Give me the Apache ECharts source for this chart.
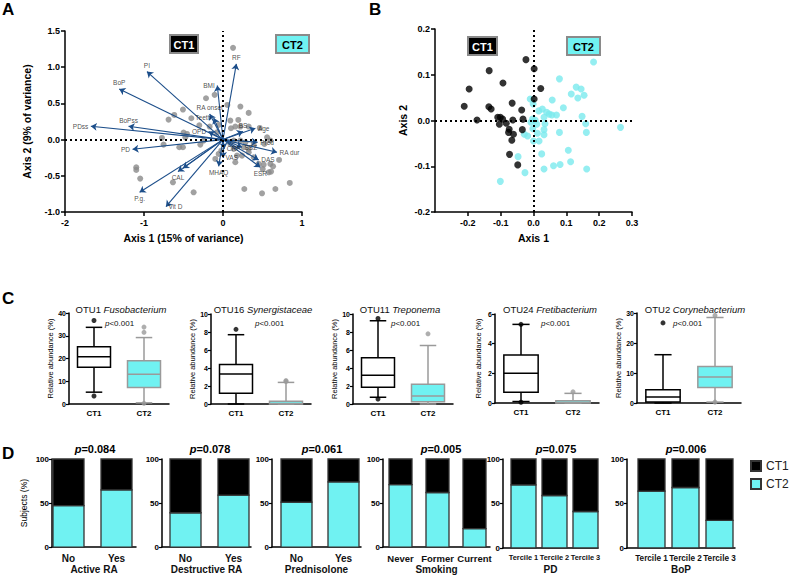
<!DOCTYPE html>
<html><head><meta charset="utf-8">
<script src="https://cdn.jsdelivr.net/npm/echarts@6/dist/echarts.min.js"></script>
<style>html,body{margin:0;padding:0;background:#fff}#c{width:789px;height:575px}</style>
</head><body><div id="c"></div>
<script>
// ---------------- DATA ----------------
// Panel A: sample scores (Axis 1, Axis 2)
const pcaPoints = [
 [0.127,1.267],[-0.215,0.571],[-0.106,0.618],[0.055,0.479],[0.220,0.456],[0.325,0.369],
 [-0.689,0.276],[-0.507,0.415],[-0.617,0.341],[-0.401,0.295],[-0.300,0.198],[-0.169,0.180],
 [-0.055,0.203],[0.093,0.263],[0.156,0.180],[0.194,0.272],[0.101,0.157],[0.220,0.180],
 [0.325,0.180],[0.465,0.161],[0.558,0.032],[0.600,-0.014],[0.524,-0.060],[0.389,-0.060],
 [0.283,-0.037],[0.220,-0.014],[0.135,-0.014],[0.093,-0.060],[0.262,-0.106],[0.325,-0.129],
 [0.135,-0.129],[0.177,-0.221],[0.241,-0.221],[0.325,-0.175],[0.156,-0.313],[0.389,-0.244],
 [0.452,-0.336],[0.515,-0.346],[0.600,-0.336],[0.634,-0.369],[0.579,-0.452],[0.710,-0.281],
 [0.503,-0.406],[0.608,-0.442],[-0.773,0.023],[-0.752,-0.069],[-0.553,-0.106],[-0.507,-0.106],
 [-0.287,-0.069],[-0.245,-0.014],[-0.499,0.097],[-0.456,0.078],[-0.477,0.032],[-1.098,-0.382],
 [-1.098,-0.419],[-1.048,-0.539],[-0.634,-0.590],[-0.372,-0.728],[-0.097,-0.267],[0.845,-0.599],
 [0.270,-0.682],[0.494,-0.742],[0.663,-0.682],[-0.055,-0.198],[-0.021,-0.152],[-0.076,0.101]
];
// Panel A: loading vectors
const arrowNames = ['PI','BoP','PDss','BoPss','PD','P.g.','Vit D','CAL','','MHAQ','BMI','RF',
  'RA onset','Teeth','OPD','Age','BS','Pred','RA dur','DAS','ESR','CRP','VAS','SSZ'];
const arrowX = [-0.963,-1.314,-1.673,-1.196,-1.145,-1.056,-0.722,-0.570,-0.507,-0.055,-0.072,0.169,
  -0.169,-0.118,-0.182,0.410,0.253,0.439,0.684,0.452,0.473,0.017,0.000,0.241];
const arrowY = [0.940,0.700,0.184,0.184,-0.134,-0.728,-0.926,-0.442,-0.396,-0.369,0.747,1.046,
  0.355,0.300,0.111,0.157,0.111,-0.037,-0.175,-0.281,-0.382,-0.129,-0.253,-0.106];
// Panel B: community types
const ct1Points = [
 [-0.023,0.133],[0.002,0.113],[-0.135,0.109],[-0.093,0.082],[-0.196,0.069],[0.022,0.070],
 [0.002,0.047],[-0.211,0.031],[-0.136,0.030],[-0.129,0.025],[-0.065,0.038],[-0.036,0.023],
 [-0.172,0.001],[-0.109,0.007],[-0.101,0.007],[-0.104,-0.008],[-0.083,-0.006],[-0.063,0.001],
 [-0.032,0.003],[-0.074,-0.019],[-0.076,-0.026],[-0.061,-0.030],[-0.034,-0.020],[-0.066,-0.043],
 [-0.073,-0.074],[-0.048,-0.097],[-0.094,0.003]
];
const ct2Points = [
 [0.183,0.128],[0.079,0.091],[0.130,0.073],[0.145,0.069],[0.115,0.058],[0.135,0.049],
 [0.154,0.055],[0.057,0.045],[-0.010,0.047],[-0.001,0.036],[0.091,0.028],[0.016,0.021],
 [0.027,0.025],[0.040,0.018],[0.048,0.014],[0.056,0.012],[0.070,0.012],[0.032,0.007],
 [0.148,0.009],[0.159,-0.007],[-0.003,0.003],[0.005,0.001],[-0.008,-0.004],[0.010,-0.008],
 [0.035,-0.007],[0.265,-0.015],[-0.002,-0.018],[-0.028,-0.030],[-0.018,-0.034],[0.012,-0.028],
 [0.032,-0.020],[0.032,-0.031],[0.079,-0.026],[0.161,-0.026],[0.000,-0.045],[0.017,-0.045],
 [0.025,-0.073],[0.106,-0.065],[-0.047,-0.079],[0.113,-0.090],[0.061,-0.099],[0.081,-0.096],
 [0.032,-0.106],[0.162,-0.106],[-0.026,-0.114],[-0.101,-0.133]
];
// Panel C: boxplots [min, Q1, median, Q3, max]
const groups = ['CT1','CT2'];
const otuIds = ['OTU1','OTU16','OTU11','OTU24','OTU2'];
const otuTaxa = ['Fusobacterium','Synergistaceae','Treponema','Fretibacterium','Corynebacterium'];
const otuAxisMax = [40,10,10,6,30];
const otuAxisStep = [10,2,2,2,10];
const boxCT1 = [[5.2,16.1,20.8,25.2,33.7],[0,1.2,3.33,4.4,7.7],[0.75,1.85,3.2,5.15,9.25],[0.1,0.72,2.0,3.23,5.3],[0,0.3,2.0,4.4,16.1]];
const boxCT2 = [[0.5,7.2,13.1,19.0,29.2],[0,0,0.05,0.3,2.4],[0,0.25,0.9,2.2,6.5],[0,0,0.03,0.15,0.65],[0.3,5.2,8.7,12.2,28.5]];
const outCT1 = [[36.7,3.5],[8.3],[9.5,0.55],[5.3,0.05],[26.7]];
const outCT2 = [[33.8,31.5,0.3],[2.5,2.6],[7.8],[0.75],[30.2,29.2,0.3]];
// Panel D: % of subjects in CT2 (CT1 is the remainder)
const dNames = ['Active RA','Destructive RA','Prednisolone','Smoking','PD','BoP'];
const dCats = [['No','Yes'],['No','Yes'],['No','Yes'],['Never','Former','Current'],
  ['Tercile 1','Tercile 2','Tercile 3'],['Tercile 1','Tercile 2','Tercile 3']];
const dCT2 = [[47,65],[39,59],[51,74],[71,62,21],[71,59,41],[64,68,31]];
const dP = ['0.084','0.078','0.061','0.005','0.075','0.006'];

// ---------------- STYLE / LAYOUT ----------------
const F = 'Liberation Sans, Arial, Helvetica, sans-serif';
const CYAN = '#70f2f2';
const CYAN_PT = '#7beaee';
const BLUE = '#1c4e8a';
const labelPos = {'PI':'top','BoP':'top','PDss':'left','BoPss':'top','PD':'left','P.g.':'bottom',
  'Vit D':'right','CAL':'bottom','MHAQ':'bottom','BMI':'left','RF':'top','RA onset':'top','Teeth':'left',
  'OPD':'left','Age':'right','BS':'top','Pred':'right','RA dur':'right','DAS':'right','ESR':'bottom',
  'CRP':'right','VAS':'right','SSZ':'right'};

const chart = echarts.init(document.getElementById('c'), null, {renderer:'svg'});
const grid = [], xAxis = [], yAxis = [], series = [], graphic = [];
const axLine = {show:true, onZero:false, lineStyle:{color:'#000', width:1.5}};
const axTick = {show:true, inside:false, length:4, lineStyle:{color:'#000', width:1.5}};
const fix = v => (Math.abs(v) < 1e-9 ? 0 : v);
const dotted = {color:'#000', width:2, type:[2,3]};

// Panel A
grid.push({left:65, top:31, width:237, height:181});
xAxis.push({gridIndex:0, type:'value', min:-2, max:1, interval:1, axisLine:axLine, axisTick:axTick,
  splitLine:{show:false}, axisLabel:{fontFamily:F, fontSize:9, fontWeight:'bold', color:'#000', margin:6},
  name:'Axis 1 (15% of variance)', nameLocation:'middle', nameGap:20,
  nameTextStyle:{fontFamily:F, fontSize:10.5, fontWeight:'bold', color:'#000'}});
yAxis.push({gridIndex:0, type:'value', min:-1, max:1.5, interval:0.5, axisLine:axLine, axisTick:axTick,
  splitLine:{show:false}, axisLabel:{fontFamily:F, fontSize:9, fontWeight:'bold', color:'#000', margin:5,
  formatter:v=>fix(v).toFixed(1)},
  name:'Axis 2 (9% of variance)', nameLocation:'middle', nameGap:33,
  nameTextStyle:{fontFamily:F, fontSize:10.5, fontWeight:'bold', color:'#000'}});
series.push({type:'scatter', xAxisIndex:0, yAxisIndex:0, data:pcaPoints, symbolSize:6,
  itemStyle:{color:'#8a8a8a'}, silent:true, z:2,
  markLine:{silent:true, symbol:['none','none'], label:{show:false}, lineStyle:dotted,
    data:[{xAxis:0},{yAxis:0}]}});
series.push({type:'lines', coordinateSystem:'cartesian2d', xAxisIndex:0, yAxisIndex:0, silent:true, z:3,
  symbol:['none','arrow'], symbolSize:[0,6], lineStyle:{color:BLUE, width:1.1, opacity:1},
  data: arrowX.map((x,i)=>({coords:[[0,0],[x,arrowY[i]]]}))});
const arrowLabel = {show:true, formatter:'{b}', fontFamily:F, fontSize:6.5, color:'#1a1a1a', distance:2,
  textBorderWidth:0};
series.push({type:'scatter', xAxisIndex:0, yAxisIndex:0, silent:true, z:4, symbolSize:1,
  itemStyle:{color:'rgba(0,0,0,0)'},
  data: arrowX.map((x,i)=>({value:[x,arrowY[i]], name:arrowNames[i],
    label:Object.assign({}, arrowLabel, {position: labelPos[arrowNames[i]] || 'right'})})),
  label:arrowLabel});

// Panel B
grid.push({left:435, top:29, width:197, height:183});
xAxis.push({gridIndex:1, type:'value', min:-0.3, max:0.3, interval:0.1, axisLine:axLine, axisTick:axTick,
  splitLine:{show:false}, axisLabel:{fontFamily:F, fontSize:9, fontWeight:'bold', color:'#000', margin:6,
  showMinLabel:false, formatter:v=>fix(v).toFixed(1)},
  name:'Axis 1', nameLocation:'middle', nameGap:20,
  nameTextStyle:{fontFamily:F, fontSize:10.5, fontWeight:'bold', color:'#000'}});
yAxis.push({gridIndex:1, type:'value', min:-0.2, max:0.2, interval:0.1, axisLine:axLine, axisTick:axTick,
  splitLine:{show:false}, axisLabel:{fontFamily:F, fontSize:9, fontWeight:'bold', color:'#000', margin:5,
  formatter:v=>fix(v).toFixed(1)},
  name:'Axis 2', nameLocation:'middle', nameGap:27,
  nameTextStyle:{fontFamily:F, fontSize:10.5, fontWeight:'bold', color:'#000'}});
series.push({type:'scatter', name:'B-CT2', xAxisIndex:1, yAxisIndex:1, data:ct2Points, symbolSize:7,
  itemStyle:{color:CYAN_PT}, silent:true, z:2,
  markLine:{silent:true, symbol:['none','none'], label:{show:false}, lineStyle:dotted,
    data:[{xAxis:0},{yAxis:0}]}});
series.push({type:'scatter', name:'B-CT1', xAxisIndex:1, yAxisIndex:1, data:ct1Points, symbolSize:7,
  itemStyle:{color:'#000'}, silent:true, z:3});

// Panel C
const cLayout = [{l:69,t:313,w:100,h:91},{l:211,t:314,w:100,h:90},{l:353,t:314,w:100,h:90},
  {l:495,t:314,w:104,h:89},{l:637,t:313,w:104,h:90}];
const cTitleX = [121,263,400,550,695];
const cPX = [105,255,391,541,673];
function boxRender(stroke, fill) {
  return function(params, api) {
    const i = api.value(0);
    const y = [1,2,3,4,5].map(k => api.coord([i, api.value(k)])[1]);
    const cx = api.coord([i, 0])[0];
    const band = api.size([1,0])[0];
    const hw = band*0.33, cw = hw*0.5;
    const st = {stroke, lineWidth:1.5, fill:'none'};
    return {type:'group', children:[
      {type:'line', shape:{x1:cx,y1:y[0],x2:cx,y2:y[1]}, style:st},
      {type:'line', shape:{x1:cx,y1:y[3],x2:cx,y2:y[4]}, style:st},
      {type:'line', shape:{x1:cx-cw,y1:y[0],x2:cx+cw,y2:y[0]}, style:st},
      {type:'line', shape:{x1:cx-cw,y1:y[4],x2:cx+cw,y2:y[4]}, style:st},
      {type:'rect', shape:{x:cx-hw,y:y[3],width:2*hw,height:Math.max(y[1]-y[3],0.5)}, style:{stroke, lineWidth:1.5, fill}},
      {type:'line', shape:{x1:cx-hw,y1:y[2],x2:cx+hw,y2:y[2]}, style:st}
    ]};
  };
}
otuIds.forEach((id,k)=>{
  const g = 2+k, L = cLayout[k];
  grid.push({left:L.l, top:L.t, width:L.w, height:L.h});
  xAxis.push({gridIndex:g, type:'category', data:groups, axisLine:axLine, axisTick:{show:false},
    axisLabel:{fontFamily:F, fontSize:8, fontWeight:'bold', color:'#000', margin:5}});
  yAxis.push({gridIndex:g, type:'value', min:0, max:otuAxisMax[k], interval:otuAxisStep[k],
    axisLine:axLine, axisTick:{show:true, length:3, lineStyle:{color:'#000', width:1.2}}, splitLine:{show:false},
    axisLabel:{fontFamily:F, fontSize:7, fontWeight:'bold', color:'#000', margin:3},
    name:'Relative abundance (%)', nameLocation:'middle', nameGap:13,
    nameTextStyle:{fontFamily:F, fontSize:7.5, color:'#000'}});
  series.push({type:'custom', xAxisIndex:g, yAxisIndex:g, silent:true, z:3,
    renderItem: boxRender('#000','#fff'), encode:{x:0, y:[1,2,3,4,5]},
    data:[[0].concat(boxCT1[k])]});
  series.push({type:'custom', xAxisIndex:g, yAxisIndex:g, silent:true, z:3,
    renderItem: boxRender('#9a9a9a',CYAN), encode:{x:0, y:[1,2,3,4,5]},
    data:[[1].concat(boxCT2[k])]});
  series.push({type:'scatter', xAxisIndex:g, yAxisIndex:g, silent:true, z:4, symbolSize:5,
    itemStyle:{color:'#000'}, data: outCT1[k].map(v=>[0,v])});
  series.push({type:'scatter', xAxisIndex:g, yAxisIndex:g, silent:true, z:4, symbolSize:5,
    itemStyle:{color:'#9a9a9a'}, data: outCT2[k].map(v=>[1,v])});
  graphic.push({type:'text', x:cTitleX[k], y:309, style:{text:'{n|'+id+' }{i|'+otuTaxa[k]+'}',
    align:'center', verticalAlign:'middle',
    rich:{n:{fontFamily:F, fontSize:9.5, fill:'#111'}, i:{fontFamily:F, fontSize:9.5, fontStyle:'italic', fill:'#111'}}}});
  graphic.push({type:'text', x:cPX[k], y:323, style:{text:'{i|p}{n|<0.001}', align:'left', verticalAlign:'middle',
    rich:{n:{fontFamily:F, fontSize:8, fill:'#111'}, i:{fontFamily:F, fontSize:8, fontStyle:'italic', fill:'#111'}}}});
});

// Panel D
const dLayout = [
 {left:52, right:136, first:53, step:48, bw:31, fs:10},
 {left:162, right:251, first:170, step:48, bw:31, fs:10},
 {left:272, right:361, first:281, step:47, bw:31, fs:10},
 {left:383, right:490, first:389, step:37, bw:23, fs:9.5},
 {left:503, right:598, first:511, step:31, bw:25, fs:7.4},
 {left:627, right:735, first:638, step:34, bw:27, fs:8.2}
];
const dPX = [95,210,322,441,556,686];
function stackRender(k, part) {
  return function(params, api) {
    const x = api.value(0), lo = api.value(1), hi = api.value(2);
    const p0 = api.coord([x, lo]), p1 = api.coord([x, hi]);
    const bw = dLayout[k].bw;
    return {type:'rect', shape:{x:p0[0]-bw/2, y:p1[1], width:bw, height:p0[1]-p1[1]},
      style:{fill: part==='CT2' ? CYAN : '#000', stroke:'#333', lineWidth:1.3}};
  };
}
dNames.forEach((nm,k)=>{
  const g = 7+k, L = dLayout[k], cats = dCats[k];
  const mn = 1 - (L.first + L.bw/2 - L.left)/L.step;
  const mx = mn + (L.right - L.left)/L.step;
  grid.push({left:L.left, top:459, width:L.right-L.left, height:91});
  xAxis.push({gridIndex:g, type:'value', min:mn, max:mx, axisLine:axLine, axisTick:{show:false},
    splitLine:{show:false},
    axisLabel:{customValues: cats.map((c,i)=>i+1), formatter:v=>cats[Math.round(v)-1],
      showMinLabel:true, showMaxLabel:true, hideOverlap:false,
      fontFamily:F, fontSize:L.fs, fontWeight:'bold', color:'#111', margin:6},
    name:nm, nameLocation:'middle', nameGap:16,
    nameTextStyle:{fontFamily:F, fontSize:10, fontWeight:'bold', color:'#111'}});
  yAxis.push({gridIndex:g, type:'value', min:0, max:100, interval:50, axisLine:axLine,
    axisTick:{show:true, length:3, lineStyle:{color:'#000', width:1.2}}, splitLine:{show:false},
    axisLabel:{fontFamily:F, fontSize:8, fontWeight:'bold', color:'#000', margin:3},
    name: k===0 ? 'Subjects (%)' : '', nameLocation:'middle', nameGap:24,
    nameTextStyle:{fontFamily:F, fontSize:8.5, color:'#000'}});
  series.push({type:'custom', name:'CT2', xAxisIndex:g, yAxisIndex:g, silent:true, z:3,
    renderItem: stackRender(k,'CT2'), encode:{x:0, y:[1,2]},
    itemStyle:{color:CYAN, borderColor:'#333', borderWidth:1},
    data: dCT2[k].map((v,i)=>[i+1, 0, v])});
  series.push({type:'custom', name:'CT1', xAxisIndex:g, yAxisIndex:g, silent:true, z:3,
    renderItem: stackRender(k,'CT1'), encode:{x:0, y:[1,2]},
    itemStyle:{color:'#000', borderColor:'#333', borderWidth:1},
    data: dCT2[k].map((v,i)=>[i+1, v, 100])});
  graphic.push({type:'text', x:dPX[k], y:449, style:{text:'{i|p}{n|='+dP[k]+'}', align:'center', verticalAlign:'middle',
    rich:{n:{fontFamily:F, fontSize:11, fontWeight:'bold', fill:'#000'},
          i:{fontFamily:F, fontSize:11, fontWeight:'bold', fontStyle:'italic', fill:'#000'}}}});
});

// Panel letters and CT tags
[['A',2,1],['B',369,1],['C',2,290],['D',2,445]].forEach(a=>{
  graphic.push({type:'text', x:a[1], y:a[2], style:{text:a[0], fontFamily:F, fontSize:17, fontWeight:'bold', fill:'#000'}});
});
function tag(txt, x, y, w, h, bg, fg) {
  graphic.push({type:'rect', shape:{x, y, width:w, height:h}, style:{fill:bg, stroke:'#8a8a8a', lineWidth:2}});
  graphic.push({type:'text', x:x+w/2, y:y+h/2+0.5, style:{text:txt, align:'center', verticalAlign:'middle',
    fontFamily:F, fontSize:11, fontWeight:'bold', fill:fg}});
}
tag('CT1',170,35,28,18,'#000','#fff');
tag('CT2',276,35,33,18,CYAN,'#000');
tag('CT1',468,37,29,18,'#000','#fff');
tag('CT2',567,37,33,18,CYAN,'#000');

chart.setOption({
  animation:false,
  backgroundColor:'#fff',
  grid, xAxis, yAxis, series, graphic,
  legend:{data:['CT1','CT2'], orient:'vertical', left:745, top:455, itemWidth:10, itemHeight:10, itemGap:6,
    icon:'rect', selectedMode:false, textStyle:{fontFamily:F, fontSize:12, color:'#222'}}
});
</script></body></html>
